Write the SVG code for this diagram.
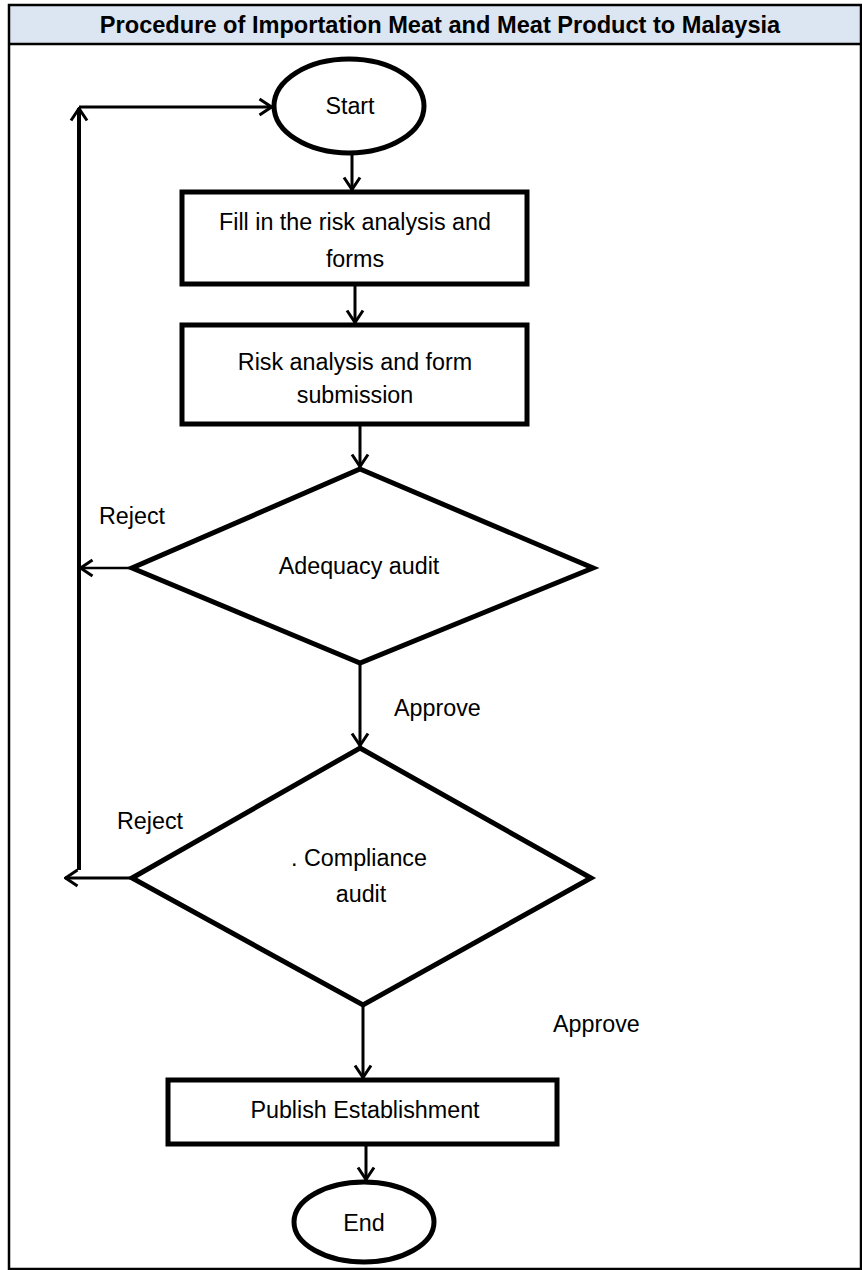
<svg xmlns="http://www.w3.org/2000/svg" width="862" height="1270" viewBox="0 0 862 1270">
<defs>
<style>
.t{font-family:"Liberation Sans",Arial,sans-serif;font-size:23.3px;fill:#000;}
.c{text-anchor:middle;}
.shape{fill:#fff;stroke:#000;stroke-width:5;}
.ln{fill:none;stroke:#000;stroke-width:3;}
</style>
<marker id="ah" viewBox="0 0 16 20" refX="14.5" refY="10" markerWidth="16" markerHeight="20" markerUnits="userSpaceOnUse" orient="auto">
<path d="M2,2 L14,10 L2,18" fill="none" stroke="#000" stroke-width="3"/>
</marker>
</defs>
<rect x="0" y="0" width="862" height="1270" fill="#fff"/>
<g id="frame">
<rect x="9" y="5" width="852" height="39" fill="#dce6f2"/>
<rect x="9" y="5" width="852" height="1264" fill="none" stroke="#000" stroke-width="2.5"/>
<line x1="9" y1="44" x2="861" y2="44" stroke="#000" stroke-width="2.5"/>
<text x="440" y="33" class="t c" style="font-weight:bold;font-size:23.6px">Procedure of Importation Meat and Meat Product to Malaysia</text>
</g>
<g id="connectors">
<line class="ln" x1="352" y1="154" x2="352" y2="190" marker-end="url(#ah)"/>
<line class="ln" x1="355" y1="284" x2="355" y2="323" marker-end="url(#ah)"/>
<line class="ln" x1="360" y1="424" x2="360" y2="467" marker-end="url(#ah)"/>
<line class="ln" x1="360" y1="663" x2="360" y2="746" marker-end="url(#ah)"/>
<line class="ln" x1="363" y1="1005" x2="363" y2="1078" marker-end="url(#ah)"/>
<line class="ln" x1="366" y1="1144" x2="366" y2="1180" marker-end="url(#ah)"/>
<line class="ln" x1="132" y1="568" x2="80" y2="568" marker-end="url(#ah)" style="stroke-width:2.5"/>
<line class="ln" x1="132" y1="878" x2="65" y2="878" marker-end="url(#ah)"/>
<line class="ln" x1="79" y1="870" x2="79" y2="108" marker-end="url(#ah)" style="stroke-width:4"/>
<line class="ln" x1="79" y1="107" x2="272" y2="107" marker-end="url(#ah)"/>
<text x="99" y="524" class="t">Reject</text>
<text x="117" y="829" class="t">Reject</text>
<text x="394" y="716" class="t">Approve</text>
<text x="553" y="1032" class="t">Approve</text>
</g>
<g id="start">
<ellipse class="shape" cx="349" cy="106" rx="75" ry="47"/>
<text x="350" y="114" class="t c">Start</text>
</g>
<g id="fill-forms">
<rect class="shape" x="182" y="192" width="345" height="92"/>
<text x="355" y="230" class="t c">Fill in the risk analysis and</text>
<text x="355" y="267" class="t c">forms</text>
</g>
<g id="submission">
<rect class="shape" x="182" y="325" width="345" height="99"/>
<text x="355" y="370" class="t c">Risk analysis and form</text>
<text x="355" y="403" class="t c">submission</text>
</g>
<g id="adequacy">
<polygon class="shape" points="360,469 593,568 360,663 132,568"/>
<text x="359" y="574" class="t c">Adequacy audit</text>
</g>
<g id="compliance">
<polygon class="shape" points="360,748 591,878 363,1005 132,878"/>
<text x="359" y="866" class="t c">. Compliance</text>
<text x="361" y="902" class="t c">audit</text>
</g>
<g id="publish">
<rect class="shape" x="168" y="1080" width="389" height="64"/>
<text x="365" y="1118" class="t c">Publish Establishment</text>
</g>
<g id="end">
<ellipse class="shape" cx="364" cy="1222" rx="70" ry="40"/>
<text x="364" y="1231" class="t c">End</text>
</g>
</svg>
